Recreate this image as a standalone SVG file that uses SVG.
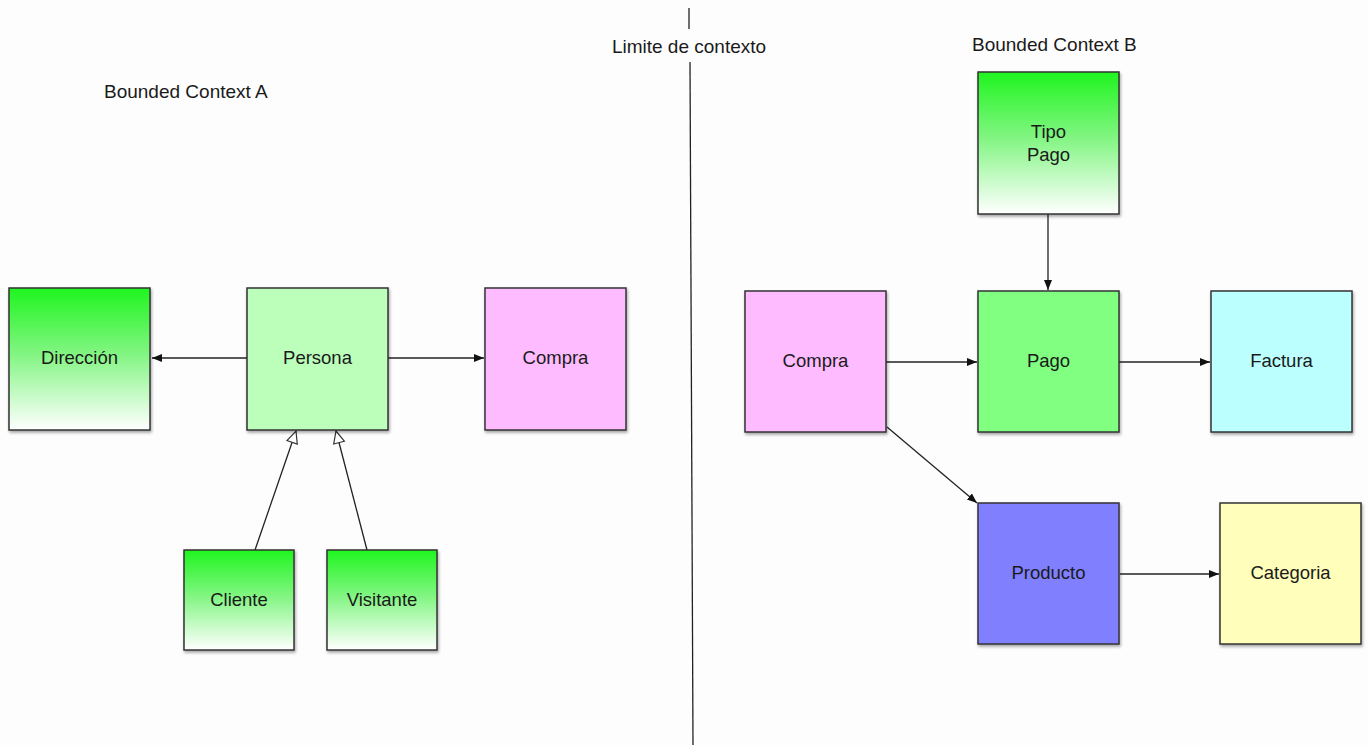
<svg xmlns="http://www.w3.org/2000/svg" width="1368" height="745" viewBox="0 0 1368 745">
<defs>
<linearGradient id="gg" x1="0" y1="0" x2="0" y2="1">
<stop offset="0" stop-color="#1ff51f"/>
<stop offset="0.45" stop-color="#7ff57f"/>
<stop offset="1" stop-color="#ffffff"/>
</linearGradient>
<filter id="sh" x="-10%" y="-10%" width="125%" height="125%">
<feDropShadow dx="1" dy="2" stdDeviation="1.5" flood-color="#000" flood-opacity="0.35"/>
</filter>
<marker id="ar" viewBox="0 0 10 10" refX="10" refY="5" markerWidth="10" markerHeight="10" markerUnits="userSpaceOnUse" orient="auto">
<path d="M0,1 L10,5 L0,9 z" fill="#111"/>
</marker>
<marker id="tri" viewBox="0 0 14 14" refX="13" refY="7" markerWidth="14" markerHeight="14" markerUnits="userSpaceOnUse" orient="auto">
<path d="M1,1.5 L13,7 L1,12.5 z" fill="#fff" stroke="#333" stroke-width="1.2"/>
</marker>
<style>
.box{stroke:#333;stroke-width:1.5;filter:url(#sh)}
.t{font-family:"Liberation Sans",Arial,sans-serif;font-size:18.5px;fill:#1a1a1a;text-anchor:middle}
.lbl{font-family:"Liberation Sans",Arial,sans-serif;font-size:19px;fill:#1a1a1a}
.c{stroke:#222;stroke-width:1.3;fill:none}
</style>
</defs>
<rect width="1368" height="745" fill="#fdfdfd"/>
<g id="boundary">
<line x1="689" y1="8" x2="689" y2="29" stroke="#222" stroke-width="1.3"/>
<line x1="690" y1="62" x2="693" y2="745" stroke="#222" stroke-width="1.3"/>
<text class="lbl" x="689" y="53" text-anchor="middle">Limite de contexto</text>
</g>
<text class="lbl" x="104" y="98">Bounded Context A</text>
<text class="lbl" x="972" y="51">Bounded Context B</text>
<g id="connectors">
<line class="c" x1="247" y1="358" x2="152" y2="358" marker-end="url(#ar)"/>
<line class="c" x1="388" y1="358" x2="484" y2="358" marker-end="url(#ar)"/>
<line class="c" x1="255" y1="550" x2="296" y2="431" marker-end="url(#tri)"/>
<line class="c" x1="367" y1="550" x2="336" y2="431" marker-end="url(#tri)"/>
<line class="c" x1="1048" y1="214" x2="1048" y2="290" marker-end="url(#ar)"/>
<line class="c" x1="886" y1="362" x2="977" y2="362" marker-end="url(#ar)"/>
<line class="c" x1="1119" y1="362" x2="1210" y2="362" marker-end="url(#ar)"/>
<line class="c" x1="887" y1="427" x2="977" y2="503" marker-end="url(#ar)"/>
<line class="c" x1="1120" y1="574" x2="1219" y2="574" marker-end="url(#ar)"/>
</g>
<g id="direccion"><rect class="box" x="9" y="288" width="141" height="142" fill="url(#gg)"/><text class="t" x="79.5" y="364">Dirección</text></g>
<g id="persona"><rect class="box" x="247" y="288" width="141" height="142" fill="#bbffbb"/><text class="t" x="317.5" y="364">Persona</text></g>
<g id="compraA"><rect class="box" x="485" y="288" width="141" height="142" fill="#ffbbff"/><text class="t" x="555.5" y="364">Compra</text></g>
<g id="cliente"><rect class="box" x="184" y="550" width="110" height="100" fill="url(#gg)"/><text class="t" x="239" y="606">Cliente</text></g>
<g id="visitante"><rect class="box" x="327" y="550" width="110" height="100" fill="url(#gg)"/><text class="t" x="382" y="606">Visitante</text></g>
<g id="tipopago"><rect class="box" x="978" y="72" width="141" height="142" fill="url(#gg)"/><text class="t" x="1048.5" y="138">Tipo</text><text class="t" x="1048.5" y="161">Pago</text></g>
<g id="compraB"><rect class="box" x="745" y="291" width="141" height="141" fill="#ffbbff"/><text class="t" x="815.5" y="367">Compra</text></g>
<g id="pago"><rect class="box" x="978" y="291" width="141" height="141" fill="#80ff80"/><text class="t" x="1048.5" y="367">Pago</text></g>
<g id="factura"><rect class="box" x="1211" y="291" width="141" height="141" fill="#bbffff"/><text class="t" x="1281.5" y="367">Factura</text></g>
<g id="producto"><rect class="box" x="978" y="503" width="141" height="141" fill="#8080ff"/><text class="t" x="1048.5" y="579">Producto</text></g>
<g id="categoria"><rect class="box" x="1220" y="503" width="141" height="141" fill="#ffffbb"/><text class="t" x="1290.5" y="579">Categoria</text></g>
</svg>
